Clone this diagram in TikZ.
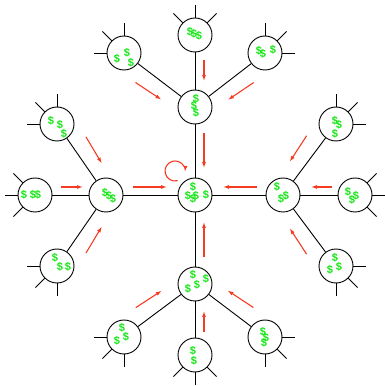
\documentclass[tikz,border=0pt]{standalone}
\usepackage{fontspec}
\newfontfamily\dollarfont{Liberation Sans}
\usetikzlibrary{calc,arrows.meta}
\definecolor{moneygreen}{RGB}{20,230,20}
\definecolor{flowred}{RGB}{245,60,35}
\newcommand\flowarr[7]{\draw[flow] ($(#1)!#3!(#2)!#6!#5:(#2)$) -- ($(#1)!#4!(#2)!#7!#5:(#2)$);}
\newcommand\whisk[2]{\foreach \a in {#2} {\draw[link] (#1.\a) -- ++(\a:13);}}
\begin{document}
\begin{tikzpicture}[x=1pt,y=1pt,
  hub/.style={circle,draw=black,line width=0.9pt,minimum size=34pt,inner sep=0pt,fill=white},
  link/.style={draw=black,line width=0.9pt},
  flow/.style={draw=flowred,line width=1.1pt,-{Latex[length=6pt,width=4pt]}},
  dollar/.style={text=moneygreen,font=\dollarfont\bfseries\fontsize{11}{11}\selectfont,inner sep=0pt}]
\useasboundingbox (0,0) rectangle (384,386);
% hubs
\node[hub] (C) at (195,191) {};
\node[hub] (T) at (195,279) {};
\node[hub] (B) at (195,102) {};
\node[hub] (L) at (106,191) {};
\node[hub] (R) at (283,191) {};
% leaves
\node[hub] (Tl) at (124,333) {};
\node[hub] (Tt) at (195,351) {};
\node[hub] (Tr) at (265,333) {};
\node[hub] (Lu) at (57,262) {};
\node[hub] (Ll) at (35,191) {};
\node[hub] (Ld) at (57,120) {};
\node[hub] (Ru) at (336,262) {};
\node[hub] (Rr) at (355,191) {};
\node[hub] (Rd) at (336,120) {};
\node[hub] (Bl) at (124,49) {};
\node[hub] (Bb) at (195,31) {};
\node[hub] (Br) at (265,49) {};
% links
\foreach \h in {T,B,L,R} {\draw[link] (C) -- (\h);}
\foreach \l in {Tl,Tt,Tr} {\draw[link] (T) -- (\l);}
\foreach \l in {Lu,Ll,Ld} {\draw[link] (L) -- (\l);}
\foreach \l in {Ru,Rr,Rd} {\draw[link] (R) -- (\l);}
\foreach \l in {Bl,Bb,Br} {\draw[link] (B) -- (\l);}
% whiskers
\whisk{Tl}{90,135,180}
\whisk{Tt}{45,90,135}
\whisk{Tr}{0,45,90}
\whisk{Lu}{90,135,180}
\whisk{Ll}{135,180,225}
\whisk{Ld}{180,225,270}
\whisk{Ru}{0,45,90}
\whisk{Rr}{-45,0,45}
\whisk{Rd}{0,-45,-90}
\whisk{Bl}{180,225,270}
\whisk{Bb}{225,270,315}
\whisk{Br}{0,-45,-90}
% dollars
\foreach \x/\y [count=\i] in {193/199,188/190,193/187,196/190,206/191} {\node[dollar] (C-d\i) at (\x,\y) {\$};}
\foreach \x/\y [count=\i] in {196/287,194/280,196/273} {\node[dollar] (T-d\i) at (\x,\y) {\$};}
\foreach \x/\y [count=\i] in {105/193,109/190,113/187} {\node[dollar] (L-d\i) at (\x,\y) {\$};}
\foreach \x/\y [count=\i] in {277/199,281/187,286/190} {\node[dollar] (R-d\i) at (\x,\y) {\$};}
\foreach \x/\y [count=\i] in {193/111,188/97,197/101,206/107} {\node[dollar] (B-d\i) at (\x,\y) {\$};}
\foreach \x/\y [count=\i] in {117/327,127/333,131/323} {\node[dollar] (Tl-d\i) at (\x,\y) {\$};}
\foreach \x/\y [count=\i] in {190/354,194/352,199/350} {\node[dollar] (Tt-d\i) at (\x,\y) {\$};}
\foreach \x/\y [count=\i] in {259/335,263/332,273/336} {\node[dollar] (Tr-d\i) at (\x,\y) {\$};}
\foreach \x/\y [count=\i] in {51/265,60/261,64/252} {\node[dollar] (Lu-d\i) at (\x,\y) {\$};}
\foreach \x/\y [count=\i] in {24/191,33/191,38/191} {\node[dollar] (Ll-d\i) at (\x,\y) {\$};}
\foreach \x/\y [count=\i] in {55/128,60/119,68/119} {\node[dollar] (Ld-d\i) at (\x,\y) {\$};}
\foreach \x/\y [count=\i] in {335/265,339/261,335/252} {\node[dollar] (Ru-d\i) at (\x,\y) {\$};}
\foreach \x/\y [count=\i] in {348/194,352/186,356/190} {\node[dollar] (Rr-d\i) at (\x,\y) {\$};}
\foreach \x/\y [count=\i] in {335/128,330/116,339/119} {\node[dollar] (Rd-d\i) at (\x,\y) {\$};}
\foreach \x/\y [count=\i] in {122/58,126/49,117/45} {\node[dollar] (Bl-d\i) at (\x,\y) {\$};}
\foreach \x/\y [count=\i] in {193/35,194/25} {\node[dollar] (Bb-d\i) at (\x,\y) {\$};}
\foreach \x/\y [count=\i] in {263/54,266/48,264/43} {\node[dollar] (Br-d\i) at (\x,\y) {\$};}
% flow arrows
\flowarr{Tt}{T}{25pt}{46pt}{90}{9pt}{9pt}
\flowarr{T}{C}{26pt}{61pt}{90}{9pt}{9pt}
\flowarr{Ll}{L}{26pt}{48pt}{90}{8pt}{8pt}
\flowarr{L}{C}{27pt}{61pt}{90}{8pt}{8pt}
\flowarr{Rr}{R}{23pt}{44pt}{-90}{8pt}{8pt}
\flowarr{R}{C}{26pt}{60pt}{-90}{8pt}{8pt}
\flowarr{Bb}{B}{23pt}{44pt}{-90}{9pt}{9pt}
\flowarr{B}{C}{27pt}{62pt}{-90}{9pt}{9pt}
\flowarr{Tl}{T}{27pt}{58pt}{-90}{16.5pt}{14.5pt}
\flowarr{Tr}{T}{27pt}{58pt}{90}{16.5pt}{14.5pt}
\flowarr{Lu}{L}{27pt}{58pt}{90}{16.5pt}{14.5pt}
\flowarr{Ld}{L}{27pt}{58pt}{-90}{16.5pt}{14.5pt}
\flowarr{Ru}{R}{27pt}{58pt}{-90}{16.5pt}{14.5pt}
\flowarr{Rd}{R}{27pt}{58pt}{90}{16.5pt}{14.5pt}
\flowarr{Bl}{B}{27pt}{58pt}{90}{16.5pt}{14.5pt}
\flowarr{Br}{B}{27pt}{58pt}{-90}{16.5pt}{14.5pt}
% self loop
\draw[flow] ($(C)+(-20,24)+(-75:10)$) arc[start angle=-75,end angle=-365,radius=10];
\end{tikzpicture}
\end{document}
